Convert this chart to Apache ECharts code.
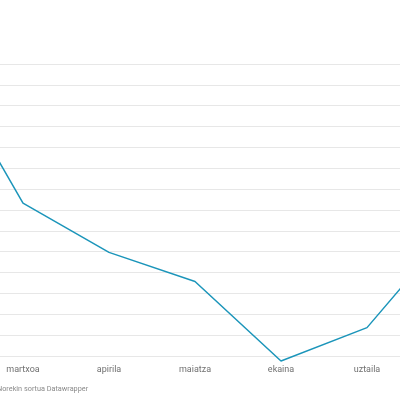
<!DOCTYPE html>
<html>
<head>
<meta charset="utf-8">
<script src="https://cdn.jsdelivr.net/npm/echarts@6/dist/echarts.min.js"></script>
<style>
  html, body { margin: 0; padding: 0; background: #fff; overflow: hidden; width: 400px; height: 400px; }
  /* the chart is wider than the window: only the middle part shows */
  #main { position: absolute; left: -106px; top: 0; width: 602px; height: 400px; }
</style>
</head>
<body>
<div id="main"></div>
<script>
// hilabeteak (ertzetakoak leihotik kanpo geratzen dira)
var months = ['otsaila', 'martxoa', 'apirila', 'maiatza', 'ekaina', 'uztaila', 'abuztua'];
var values = [14.5, 7.33, 4.97, 3.57, -0.24, 1.36, 6.18];
var footer = 'Norekin sortua Datawrapper';

var myChart = echarts.init(document.getElementById('main'));
var option = {
    backgroundColor: '#fff',
    animation: false,
    grid: {
        left: 0,
        right: 0,
        top: 64,
        bottom: 44
    },
    xAxis: {
        type: 'category',
        data: months,
        boundaryGap: true,
        axisLine: { show: false },
        axisTick: { show: false },
        axisLabel: {
            color: '#707070',
            fontFamily: 'Roboto',
            fontSize: 9,
            margin: 9
        }
    },
    yAxis: {
        type: 'value',
        min: 0,
        max: 14,
        interval: 1,
        axisLine: { show: false },
        axisTick: { show: false },
        axisLabel: { show: false },
        splitLine: {
            lineStyle: { color: '#e7e7e7', width: 1 }
        }
    },
    graphic: [{
        type: 'text',
        left: 103,
        top: 386,
        style: {
            text: footer,
            fill: '#8a8a8a',
            font: '7.3px Roboto'
        }
    }],
    series: [{
        type: 'line',
        data: values,
        clip: false,
        symbol: 'none',
        lineStyle: { color: '#1b95ba', width: 1.5 }
    }]
};
myChart.setOption(option);
</script>
</body>
</html>
